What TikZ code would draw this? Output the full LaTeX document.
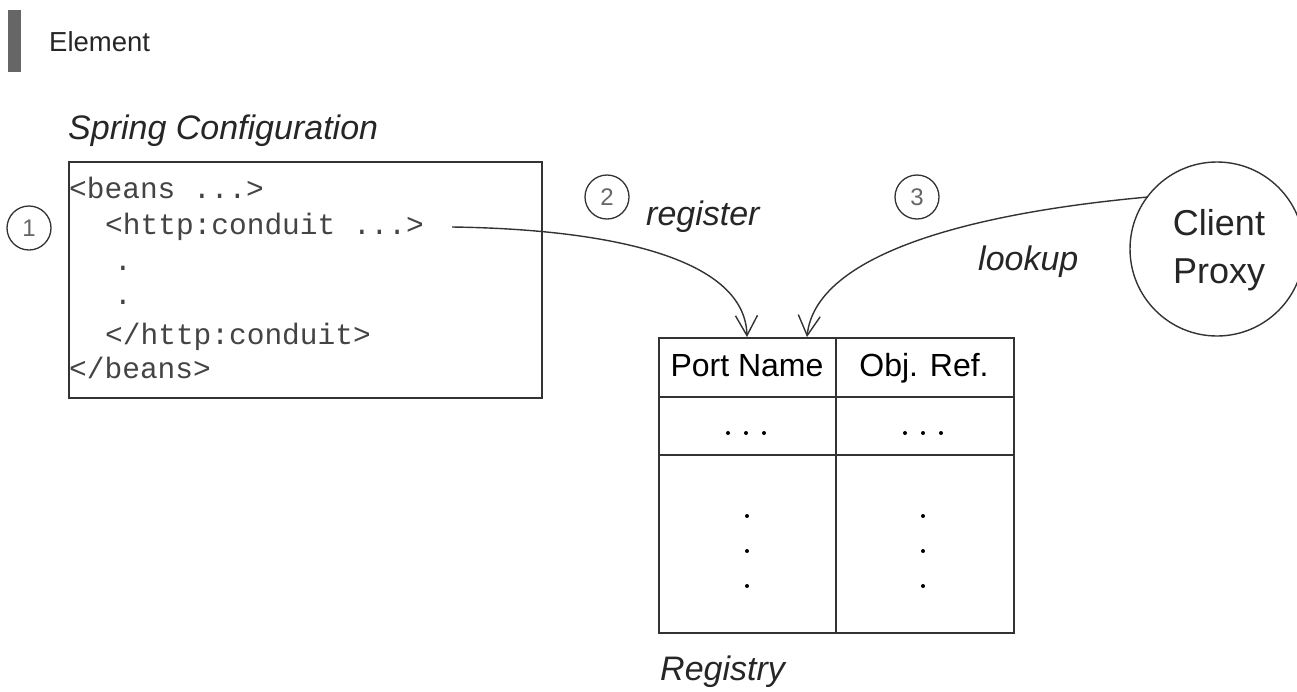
\documentclass[tikz,border=0pt]{standalone}
\usepackage{fontspec}
\setmainfont{Liberation Sans}
\newfontfamily\codefont{Liberation Mono}
\usetikzlibrary{arrows.meta}
\definecolor{barcol}{HTML}{666666}
\definecolor{linecol}{HTML}{333333}
\definecolor{codecol}{HTML}{444444}
\begin{document}
\begin{tikzpicture}[x=1pt,y=-1pt,
  txt/.style={inner sep=0pt, anchor=base west},
  big/.style={font=\fontsize{34}{40}\selectfont},
  bigit/.style={font=\fontsize{34}{40}\selectfont\itshape},
  code/.style={inner sep=0pt, anchor=base west, text=codecol, font=\codefont\fontsize{29.5}{34}\selectfont},
  numcirc/.style={draw=linecol, line width=1.3pt, circle, minimum size=44pt, inner sep=0pt, text=barcol, font=\fontsize{24}{28}\selectfont},
  conn/.style={draw=linecol, line width=1.4pt, -{Straight Barb[length=20pt,width=22pt,line width=1.4pt]}},
  tline/.style={draw=linecol, line width=2pt},
  dotm/.style={fill=black, circle, inner sep=0pt, minimum size=4pt}
]
\useasboundingbox (0,0) rectangle (1297,691);
\fill[white] (0,0) rectangle (1297,691);

% header
\fill[barcol] (8,10) rectangle (21,72);
\node[txt, font=\fontsize{27.5}{32}\selectfont, text=black!85] (elem) at (49,51) {Element};

% Spring configuration
\node[txt, bigit, text=black!85] (springt) at (68,139) {Spring Configuration};
\node[draw=linecol, line width=2.2pt, minimum width=473pt, minimum height=236pt, inner sep=0pt, anchor=north west] (cfg) at (68,161) {};
\node[code] (l1) at (69,198) {<beans ...>};
\node[code] (l2) at (105,234) {<http:conduit ...>};
\node[code] (l3) at (114,270) {.};
\node[code] (l4) at (114,304) {.};
\node[code] (l5) at (105,344) {</http:conduit>};
\node[code] (l6) at (69,378) {</beans>};
\node[numcirc] (n1) at (29,228) {1};

% registry table
\node[tline, draw, minimum width=355pt, minimum height=295pt, inner sep=0pt, anchor=north west] (reg) at (658,337) {};
\draw[tline] (836,337) -- (836,632);
\draw[tline] (658,397) -- (1013,397);
\draw[tline] (658,455) -- (1013,455);
\node[txt, anchor=base, font=\fontsize{32}{38}\selectfont] (pn) at (747,376) {Port Name};
\node[txt, anchor=base, font=\fontsize{32}{38}\selectfont] (or) at (924,376) {Obj. Ref.};
\foreach \xx in {728,746,764,905,923,941} \node[dotm] at (\xx,433) {};
\foreach \yy in {516,551,586} {\node[dotm] at (747,\yy) {}; \node[dotm] at (923,\yy) {};}
\node[txt, bigit, text=black!85] (regt) at (660,680) {Registry};

% client proxy
\node[draw=linecol, line width=1.4pt, circle, minimum size=174pt, inner sep=0pt] (cp) at (1217,249) {};
\node[txt, anchor=base, font=\fontsize{36}{42}\selectfont, text=black!85] (cl) at (1219,235) {Client};
\node[txt, anchor=base, font=\fontsize{36}{42}\selectfont, text=black!85] (px) at (1219,283) {Proxy};

% numbers and labels
\node[numcirc] (n2) at (607,197) {2};
\node[numcirc] (n3) at (917,197) {3};
\node[txt, bigit, text=black!85] (regl) at (646,225) {register};
\node[txt, bigit, text=black!85] (lkl) at (978,270) {lookup};

% connectors
\coordinate (rs) at (452,227);
\coordinate (ta) at (747,337);
\coordinate (tb) at (807,337);
\coordinate (ls) at (1148,197);
\draw[conn] (rs) .. controls (600,229) and (745,255) .. (ta);
\draw[conn] (ls) .. controls (950,215) and (815,260) .. (tb);
\end{tikzpicture}
\end{document}
